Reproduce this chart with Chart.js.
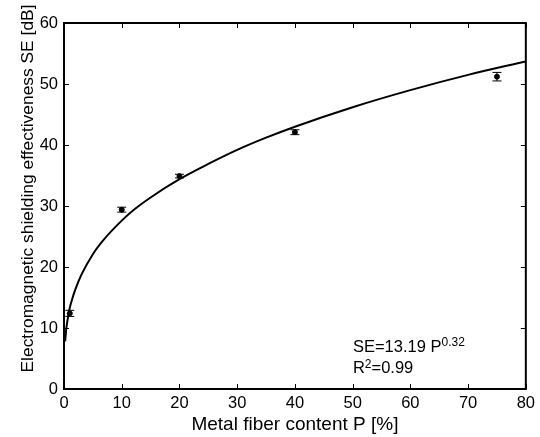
<!DOCTYPE html>
<html>
<head>
<meta charset="utf-8">
<script src="https://cdn.jsdelivr.net/npm/chart.js@4/dist/chart.umd.min.js"></script>
<style>
  html, body { margin: 0; padding: 0; background: #fff; }
  #wrap { width: 540px; height: 437px; }
</style>
</head>
<body>
<div id="wrap"><canvas id="chart"></canvas></div>
<script>
// measured points (metal fiber content P [%] vs SE [dB])
const fiberContent = [1, 10, 20, 40, 75];
const seValues = [12.4, 29.4, 34.9, 42.1, 51.2];
const seErrors = [0.5, 0.4, 0.3, 0.4, 0.7];

// fitted curve
const fitX = [0.2, 0.4, 0.7, 1, 1.5, 2, 3, 5, 7, 10, 12, 15, 20, 25, 30, 35, 40, 50, 60, 70, 80];
const fitY = [7.8, 9.9, 11.8, 13.3, 15.0, 16.4, 18.7, 22.1, 24.6, 27.6, 29.3, 31.4, 34.4, 36.9, 39.2, 41.2, 43.0, 46.2, 49.0, 51.5, 53.7];

const xTicks = [0, 10, 20, 30, 40, 50, 60, 70, 80];
const yTicks = [0, 10, 20, 30, 40, 50, 60];

const yTitle = "Electromagnetic shielding effectiveness SE [dB]";
const FONT = "'Liberation Sans', Arial, sans-serif";

// frame with inward ticks on all four sides
const framePlugin = {
  id: "frame",
  afterDatasetsDraw(chart) {
    const { ctx, chartArea: a, scales } = chart;
    ctx.save();
    ctx.strokeStyle = "#000";
    ctx.lineWidth = 1;
    const t = 5;
    ctx.beginPath();
    xTicks.forEach(v => {
      const x = Math.round(scales.x.getPixelForValue(v)) + 0.5;
      ctx.moveTo(x, a.bottom); ctx.lineTo(x, a.bottom - t);
      ctx.moveTo(x, a.top); ctx.lineTo(x, a.top + t);
    });
    yTicks.forEach(v => {
      const y = Math.round(scales.y.getPixelForValue(v)) + 0.5;
      ctx.moveTo(a.left, y); ctx.lineTo(a.left + t, y);
      ctx.moveTo(a.right, y); ctx.lineTo(a.right - t, y);
    });
    ctx.stroke();
    ctx.lineWidth = 2;
    ctx.strokeRect(a.left, a.top, a.right - a.left, a.bottom - a.top);
    ctx.restore();
  }
};

// error bars for the measured points
const errorBarPlugin = {
  id: "errorBars",
  afterDatasetsDraw(chart) {
    const { ctx, scales } = chart;
    ctx.save();
    ctx.strokeStyle = "#000";
    ctx.lineWidth = 1;
    fiberContent.forEach((p, i) => {
      const x = scales.x.getPixelForValue(p);
      const y1 = scales.y.getPixelForValue(seValues[i] - seErrors[i]);
      const y2 = scales.y.getPixelForValue(seValues[i] + seErrors[i]);
      ctx.beginPath();
      ctx.moveTo(x, y1); ctx.lineTo(x, y2);
      ctx.moveTo(x - 4.5, y1); ctx.lineTo(x + 4.5, y1);
      ctx.moveTo(x - 4.5, y2); ctx.lineTo(x + 4.5, y2);
      ctx.stroke();
    });
    ctx.restore();
  }
};

// fit equation text + y axis title
const textPlugin = {
  id: "texts",
  afterDraw(chart) {
    const { ctx, scales } = chart;
    const x = scales.x.getPixelForValue(50.05);
    const y1 = scales.y.getPixelForValue(6.0);
    const y2 = scales.y.getPixelForValue(2.6);
    ctx.save();
    ctx.fillStyle = "#000";
    ctx.textBaseline = "alphabetic";
    ctx.textAlign = "left";
    ctx.font = "16.5px " + FONT;
    const s = "SE=13.19 P";
    ctx.fillText(s, x, y1);
    let w = ctx.measureText(s).width;
    ctx.font = "12px " + FONT;
    ctx.fillText("0.32", x + w, y1 - 6);
    ctx.font = "16.5px " + FONT;
    ctx.fillText("R", x, y2);
    w = ctx.measureText("R").width;
    ctx.font = "12px " + FONT;
    ctx.fillText("2", x + w, y2 - 5);
    const w2 = ctx.measureText("2").width;
    ctx.font = "16.5px " + FONT;
    ctx.fillText("=0.99", x + w + w2, y2);

    ctx.translate(28, 188.5);
    ctx.rotate(-Math.PI / 2);
    ctx.textAlign = "center";
    ctx.textBaseline = "middle";
    ctx.font = "17.4px " + FONT;
    ctx.fillText(yTitle, 0, 0);
    ctx.restore();
  }
};

new Chart(document.getElementById("chart"), {
  type: "scatter",
  data: {
    datasets: [
      {
        type: "line",
        data: fitX.map((v, i) => ({ x: v, y: fitY[i] })),
        borderColor: "#000",
        borderWidth: 2,
        pointRadius: 0,
        cubicInterpolationMode: "monotone",
        fill: false
      },
      {
        data: fiberContent.map((v, i) => ({ x: v, y: seValues[i] })),
        backgroundColor: "#000",
        borderColor: "#000",
        pointRadius: 2.5
      }
    ]
  },
  options: {
    responsive: true,
    maintainAspectRatio: false,
    animation: false,
    layout: { padding: { top: 23, right: 11, left: 0, bottom: 0 } },
    plugins: { legend: { display: false }, tooltip: { enabled: false } },
    scales: {
      x: {
        type: "linear",
        min: 0, max: 80,
        afterBuildTicks: s => { s.ticks = xTicks.map(v => ({ value: v })); },
        afterFit: s => { s.height = 48; },
        grid: { display: false, drawTicks: false },
        border: { display: false },
        ticks: { color: "#000", font: { family: FONT, size: 16.5 }, padding: 5 },
        title: { display: true, text: "Metal fiber content P [%]", color: "#000", font: { family: FONT, size: 19 }, padding: { top: 0, bottom: 1 } }
      },
      y: {
        type: "linear",
        min: 0, max: 60,
        afterBuildTicks: s => { s.ticks = yTicks.map(v => ({ value: v })); },
        afterFit: s => { s.width = 64; },
        grid: { display: false, drawTicks: false },
        border: { display: false },
        ticks: { color: "#000", font: { family: FONT, size: 16.5 }, padding: 6 },
        title: { display: false }
      }
    }
  },
  plugins: [framePlugin, errorBarPlugin, textPlugin]
});
</script>
</body>
</html>
